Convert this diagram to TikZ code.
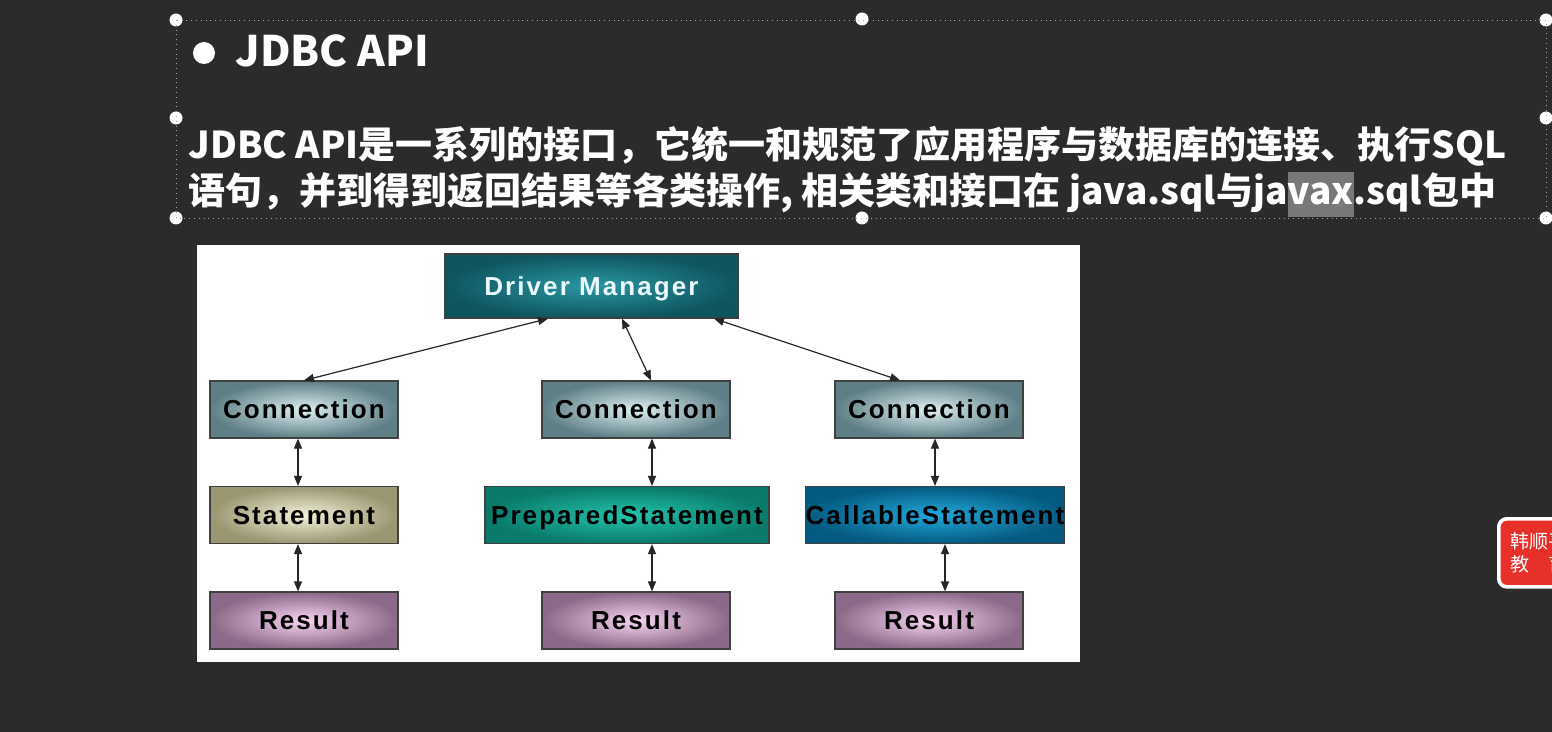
\documentclass[tikz,border=0pt]{standalone}
\usepackage{fontspec}
\setmainfont{Liberation Sans}
\newfontfamily\cjk{Noto Sans CJK SC}
\newfontfamily\boxfont{Liberation Sans}[LetterSpace=8]
\usepackage{tikz}
\usetikzlibrary{arrows.meta,positioning}

\definecolor{board}{HTML}{2B2B2B}
\definecolor{selgray}{HTML}{77787A}
\definecolor{badgered}{HTML}{E8302A}
\definecolor{dmout}{HTML}{0E5560}
\definecolor{dmin}{HTML}{2A98A2}
\definecolor{connout}{HTML}{5F7F86}
\definecolor{connin}{HTML}{DDF1F3}
\definecolor{stout}{HTML}{9A9672}
\definecolor{stin}{HTML}{F4F2DA}
\definecolor{psout}{HTML}{0A7A6A}
\definecolor{psin}{HTML}{22C4AC}
\definecolor{csout}{HTML}{045A80}
\definecolor{csin}{HTML}{22A8DC}
\definecolor{resout}{HTML}{8A6A88}
\definecolor{resin}{HTML}{F8D4F2}

\newcommand{\hlsel}[1]{{\setlength{\fboxsep}{0pt}\colorbox{selgray}{\rule[-0.32em]{0pt}{1.2em}#1}}}

\begin{document}
\begin{tikzpicture}[
  x=0.5pt, y=-0.5pt,
  slidebox/.style={draw=black!75, line width=0.6pt, inner sep=0pt, minimum height=28.5pt, text height=9.4pt, text depth=0pt, font=\boxfont\bfseries\fontsize{13}{15}\selectfont},
  dmbox/.style={slidebox, minimum width=146.5pt, minimum height=32pt, inner color=dmin, outer color=dmout, text=white!92!cyan},
  connbox/.style={slidebox, minimum width=94pt, inner color=connin, outer color=connout},
  stbox/.style={slidebox, minimum width=94pt, inner color=stin, outer color=stout},
  psbox/.style={slidebox, minimum width=142pt, inner color=psin, outer color=psout},
  csbox/.style={slidebox, minimum width=127pt, inner color=csin, outer color=csout},
  resbox/.style={slidebox, minimum width=94pt, inner color=resin, outer color=resout},
  handle/.style={circle, fill=white, minimum size=6.5pt, inner sep=0pt},
  slidetext/.style={anchor=base west, inner sep=0pt, text=white, font=\cjk\bfseries\fontsize{18.5}{23}\selectfont},
  link/.style={<->, line width=0.6pt, draw=black!85},
  >={Triangle[length=5pt,width=4pt]}
]
\useasboundingbox (0,0) rectangle (1552,732);
\clip (0,0) rectangle (1552,732);
\fill[board] (0,0) rectangle (1552,732);

% selection handles of the text frame
\node[handle] (h1) at (176,20) {};
\node[handle] (h2) at (862,19) {};
\node[handle] (h3) at (1546,20) {};
\node[handle] (h4) at (176,118) {};
\node[handle] (h5) at (1546,118) {};
\node[handle] (h6) at (176,218) {};
\node[handle] (h7) at (862,218) {};
\node[handle] (h8) at (1546,218) {};
\draw[dotted, gray!70, line width=0.4pt] (h1.center) rectangle (h8.center);

% title and description
\node[circle, fill=white, minimum size=11pt, inner sep=0pt] (bullet) at (204,53) {};
\node[anchor=base west, inner sep=0pt, text=white, font=\cjk\bfseries\fontsize{21}{25}\selectfont] (title) at (235,67) {JDBC API};
\node[slidetext] (desc1) at (188,159) {JDBC API是一系列的接口，它统一和规范了应用程序与数据库的连接、执行SQL};
\node[slidetext] (desc2) at (188,205) {语句，并到得到返回结果等各类操作, 相关类和接口在 java.sql与ja\hlsel{vax}.sql包中};

% white panel with the diagram
\fill[white] (197,245) rectangle (1080,662);

% top: driver manager
\node[dmbox] (dm) at (591.5,286) {Driver Manager};

% connections
\node[connbox] (c1) at (304,409.5) {Connection};
\node[connbox] (c2) at (636,409.5) {Connection};
\node[connbox] (c3) at (929,409.5) {Connection};

% statements
\node[stbox] (st) at (304,515) {Statement};
\node[psbox] (ps) at (627,515) {PreparedStatement};
\node[csbox] (cs) at (935,515) {CallableStatement};

% results
\node[resbox] (r1) at (304,620.5) {Result};
\node[resbox] (r2) at (636,620.5) {Result};
\node[resbox] (r3) at (929,620.5) {Result};

% arrows between driver manager and connections
\draw[link] ([xshift=-21.75pt]dm.south) -- (c1.north);
\draw[link] ([xshift=15.25pt]dm.south) -- ([xshift=7.5pt]c2.north);
\draw[link] ([xshift=61.25pt]dm.south) -- ([xshift=-14.5pt]c3.north);

% arrows down each column
\draw[link] ([xshift=-3pt]c1.south) -- ([xshift=-3pt]c1.south |- st.north);
\draw[link] ([xshift=-3pt]st.south) -- ([xshift=-3pt]st.south |- r1.north);
\draw[link] ([xshift=8pt]c2.south) -- ([xshift=8pt]c2.south |- ps.north);
\draw[link] ([xshift=8pt]r2.north |- ps.south) -- ([xshift=8pt]r2.north);
\draw[link] ([xshift=3pt]c3.south) -- ([xshift=3pt]c3.south |- cs.north);
\draw[link] ([xshift=8pt]r3.north |- cs.south) -- ([xshift=8pt]r3.north);

% badge at the right edge
\node[anchor=north west, draw=white, line width=1.8pt, fill=badgered, rounded corners=4pt, text width=50pt, minimum height=34pt, inner xsep=6pt, inner ysep=4pt, align=left, text=white, font=\cjk\fontsize{9.5}{11.5}\selectfont] (badge) at (1497,517) {韩顺平\\教\hspace{1em}育};
\end{tikzpicture}
\end{document}
